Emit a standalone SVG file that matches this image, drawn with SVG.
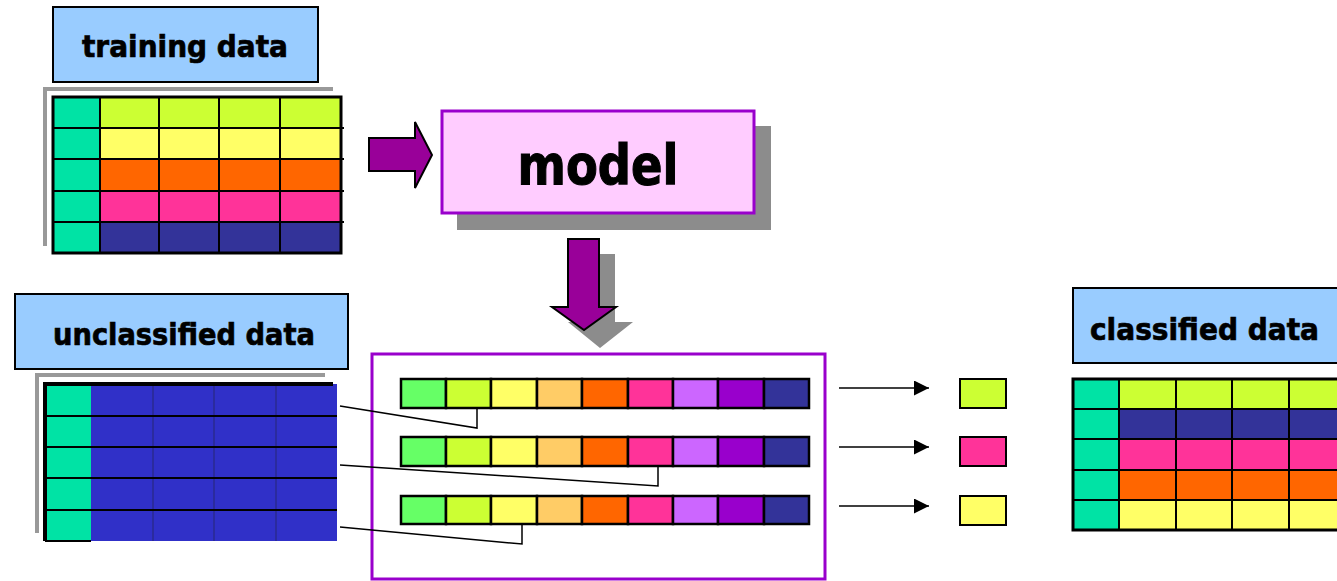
<svg xmlns="http://www.w3.org/2000/svg" width="1337" height="581" viewBox="0 0 1337 581">
<defs>
<style>
.lbl{fill:#99CCFF;stroke:#000;stroke-width:2}
.lt{font-family:"DejaVu Sans","Liberation Sans",sans-serif;font-weight:bold;font-size:30px;fill:#000;stroke:#000;stroke-width:0.7}
.g{stroke:#000;stroke-width:2}
.shadow{fill:none;stroke:#999;stroke-width:4}
.teal{fill:#00E3A5}
.conn{fill:none;stroke:#000;stroke-width:1.5}
</style>
<marker id="ah" viewBox="0 0 10 10" refX="10" refY="5" markerWidth="15" markerHeight="15" markerUnits="userSpaceOnUse" orient="auto"><path d="M0,0 L10,5 L0,10 z" fill="#000"/></marker>
</defs>
<rect width="1337" height="581" fill="#fff"/>

<g id="training-label">
<rect class="lbl" x="53" y="7" width="265" height="75"/>
<text class="lt" x="82" y="57" textLength="206" lengthAdjust="spacingAndGlyphs">training data</text>
</g>

<g id="training-table">
<path class="shadow" d="M45,246 V89 H333"/>
<rect x="53" y="97" width="47" height="156" class="teal"/>
<rect x="100" y="97" width="241" height="31" fill="#CCFF33"/>
<rect x="100" y="128" width="241" height="31" fill="#FFFF66"/>
<rect x="100" y="159" width="241" height="32" fill="#FF6600"/>
<rect x="100" y="191" width="241" height="31" fill="#FF3399"/>
<rect x="100" y="222" width="241" height="31" fill="#333399"/>
<g class="g">
<line x1="100" y1="97" x2="100" y2="253"/>
<line x1="159" y1="97" x2="159" y2="253"/>
<line x1="219" y1="97" x2="219" y2="253"/>
<line x1="280" y1="97" x2="280" y2="253"/>
<line x1="53" y1="128" x2="344" y2="128"/>
<line x1="53" y1="159" x2="344" y2="159"/>
<line x1="53" y1="191" x2="344" y2="191"/>
<line x1="53" y1="222" x2="344" y2="222"/>
</g>
<rect x="53" y="97" width="288" height="156" fill="none" stroke="#000" stroke-width="3"/>
</g>

<g id="right-arrow">
<path d="M369,138 H415 V122 L432,155 L415,188 V171 H369 Z" fill="#990099" stroke="#000" stroke-width="2"/>
</g>

<g id="model">
<rect x="457" y="126" width="314" height="104" fill="#8C8C8C"/>
<rect x="442" y="111" width="312" height="102" fill="#FFCCFF" stroke="#9900CC" stroke-width="3"/>
<text x="598" y="184" text-anchor="middle" font-family="DejaVu Sans,'Liberation Sans',sans-serif" font-weight="bold" font-size="56" stroke="#000" stroke-width="1.2" textLength="161" lengthAdjust="spacingAndGlyphs">model</text>
</g>

<g id="down-arrow">
<path d="M584,254 H615 V322 H633 L600,348 L568,322 H584 Z" fill="#8C8C8C"/>
<path d="M568,239 H599 V307 H616 L584,330 L552,307 H568 Z" fill="#990099" stroke="#000" stroke-width="2"/>
</g>

<g id="unclassified-label">
<rect class="lbl" x="15" y="294" width="333" height="75"/>
<text class="lt" x="53" y="345" textLength="262" lengthAdjust="spacingAndGlyphs">unclassified data</text>
</g>

<g id="unclassified-table">
<path class="shadow" d="M37,533 V375 H325"/>
<rect x="45" y="384" width="46" height="157" class="teal"/>
<rect x="91" y="384" width="246" height="157" fill="#3030C8"/>
<g stroke="#2A2A90" stroke-width="1.5">
<line x1="153" y1="384" x2="153" y2="541"/>
<line x1="214" y1="384" x2="214" y2="541"/>
<line x1="276" y1="384" x2="276" y2="541"/>
</g>
<g class="g">
<line x1="45" y1="416" x2="337" y2="416"/>
<line x1="45" y1="447" x2="337" y2="447"/>
<line x1="45" y1="478" x2="337" y2="478"/>
<line x1="45" y1="510" x2="337" y2="510"/>
<line x1="45" y1="541" x2="91" y2="541"/>
</g>
<path d="M45,541 V384 H333" fill="none" stroke="#000" stroke-width="4"/>
</g>

<g id="classifier-box">
<rect x="372" y="354" width="453" height="225" fill="none" stroke="#9900CC" stroke-width="3"/>
</g>

<g id="bars" stroke="#000" stroke-width="2.5">
<g id="bar1">
<rect x="401" y="379" width="45" height="29" fill="#66FF66"/>
<rect x="446" y="379" width="45" height="29" fill="#CCFF33"/>
<rect x="491" y="379" width="46" height="29" fill="#FFFF66"/>
<rect x="537" y="379" width="45" height="29" fill="#FFCC66"/>
<rect x="582" y="379" width="46" height="29" fill="#FF6600"/>
<rect x="628" y="379" width="45" height="29" fill="#FF3399"/>
<rect x="673" y="379" width="45" height="29" fill="#CC66FF"/>
<rect x="718" y="379" width="46" height="29" fill="#9900CC"/>
<rect x="764" y="379" width="45" height="29" fill="#333399"/>
</g>
<g id="bar2">
<rect x="401" y="437" width="45" height="29" fill="#66FF66"/>
<rect x="446" y="437" width="45" height="29" fill="#CCFF33"/>
<rect x="491" y="437" width="46" height="29" fill="#FFFF66"/>
<rect x="537" y="437" width="45" height="29" fill="#FFCC66"/>
<rect x="582" y="437" width="46" height="29" fill="#FF6600"/>
<rect x="628" y="437" width="45" height="29" fill="#FF3399"/>
<rect x="673" y="437" width="45" height="29" fill="#CC66FF"/>
<rect x="718" y="437" width="46" height="29" fill="#9900CC"/>
<rect x="764" y="437" width="45" height="29" fill="#333399"/>
</g>
<g id="bar3">
<rect x="401" y="496" width="45" height="28" fill="#66FF66"/>
<rect x="446" y="496" width="45" height="28" fill="#CCFF33"/>
<rect x="491" y="496" width="46" height="28" fill="#FFFF66"/>
<rect x="537" y="496" width="45" height="28" fill="#FFCC66"/>
<rect x="582" y="496" width="46" height="28" fill="#FF6600"/>
<rect x="628" y="496" width="45" height="28" fill="#FF3399"/>
<rect x="673" y="496" width="45" height="28" fill="#CC66FF"/>
<rect x="718" y="496" width="46" height="28" fill="#9900CC"/>
<rect x="764" y="496" width="45" height="28" fill="#333399"/>
</g>
</g>

<g id="connectors">
<path class="conn" d="M340,406 L477,428 V408"/>
<path class="conn" d="M340,465 L658,486 V466"/>
<path class="conn" d="M340,527 L522,544 V524"/>
<line class="conn" x1="839" y1="388" x2="929" y2="388" marker-end="url(#ah)"/>
<line class="conn" x1="839" y1="447" x2="929" y2="447" marker-end="url(#ah)"/>
<line class="conn" x1="839" y1="506" x2="929" y2="506" marker-end="url(#ah)"/>
</g>

<g id="results" stroke="#000" stroke-width="2">
<rect x="960" y="379" width="46" height="29" fill="#CCFF33"/>
<rect x="960" y="437" width="46" height="29" fill="#FF3399"/>
<rect x="960" y="496" width="46" height="29" fill="#FFFF66"/>
</g>

<g id="classified-label">
<rect class="lbl" x="1073" y="288" width="266" height="75"/>
<text class="lt" x="1090" y="340" textLength="229" lengthAdjust="spacingAndGlyphs">classified data</text>
</g>

<g id="classified-table">
<rect x="1073" y="379" width="46" height="151" class="teal"/>
<rect x="1119" y="379" width="220" height="30" fill="#CCFF33"/>
<rect x="1119" y="409" width="220" height="30" fill="#333399"/>
<rect x="1119" y="439" width="220" height="31" fill="#FF3399"/>
<rect x="1119" y="470" width="220" height="30" fill="#FF6600"/>
<rect x="1119" y="500" width="220" height="30" fill="#FFFF66"/>
<g class="g">
<line x1="1119" y1="379" x2="1119" y2="530"/>
<line x1="1176" y1="379" x2="1176" y2="530"/>
<line x1="1232" y1="379" x2="1232" y2="530"/>
<line x1="1289" y1="379" x2="1289" y2="530"/>
<line x1="1073" y1="409" x2="1339" y2="409"/>
<line x1="1073" y1="439" x2="1339" y2="439"/>
<line x1="1073" y1="470" x2="1339" y2="470"/>
<line x1="1073" y1="500" x2="1339" y2="500"/>
</g>
<rect x="1073" y="379" width="266" height="151" fill="none" stroke="#000" stroke-width="3"/>
</g>
</svg>
